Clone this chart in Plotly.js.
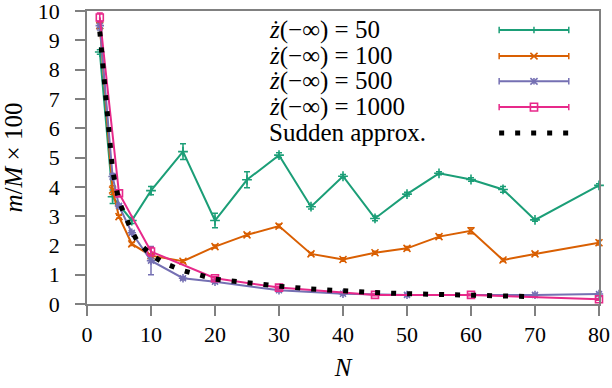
<!DOCTYPE html>
<html>
<head>
<meta charset="utf-8">
<script src="https://cdn.plot.ly/plotly-3.0.1.min.js"></script>
</head>
<body style="margin:0">
<div id="chart"></div>
<script>
// ---- data ----
const seriesNames = ["50", "100", "500", "1000"];
const n50 = [2, 4, 7, 10, 15, 20, 25, 30, 35, 40, 45, 50, 55, 60, 65, 70, 80];
const m50 = [8.6, 3.66, 2.85, 3.87, 5.2, 2.85, 4.24, 5.08, 3.32, 4.36, 2.92, 3.75, 4.46, 4.25, 3.91, 2.87, 4.05];
const e50 = [0.08, 0.23, 0.1, 0.14, 0.27, 0.25, 0.27, 0.08, 0.08, 0.06, 0.08, 0.06, 0.05, 0.06, 0.1, 0.05, 0.05];

const n100 = [2, 4, 5, 7, 10, 15, 20, 25, 30, 35, 40, 45, 50, 55, 60, 65, 70, 80];
const m100 = [9.5, 3.89, 2.98, 2.05, 1.65, 1.46, 1.96, 2.36, 2.66, 1.71, 1.52, 1.75, 1.9, 2.3, 2.5, 1.5, 1.71, 2.09];
const e100 = [0.1, 0.15, 0.05, 0.05, 0.05, 0.05, 0.05, 0.05, 0.06, 0.05, 0.06, 0.05, 0.06, 0.06, 0.1, 0.05, 0.05, 0.08];

const n500 = [2, 4, 5, 7, 10, 15, 20, 30, 40, 50, 70, 80];
const m500 = [9.5, 4.35, 3.35, 2.43, 1.48, 0.88, 0.76, 0.47, 0.35, 0.31, 0.31, 0.34];
const e500 = [0.15, 0.1, 0.05, 0.05, 0.48, 0.05, 0.05, 0.04, 0.03, 0.03, 0.03, 0.03];

const n1000 = [2, 5, 10, 20, 30, 45, 60, 80];
const m1000 = [9.78, 3.78, 1.79, 0.88, 0.56, 0.31, 0.31, 0.16];
const e1000 = [0.15, 0.12, 0.15, 0.06, 0.05, 0.03, 0.03, 0.03];

const nSudden = [2, 2.5, 3, 3.5, 4, 5, 6, 7, 8, 10, 12, 15, 20, 25, 30, 35, 40, 45, 50, 55, 60, 65, 70];
const mSudden = [9.3, 8.0, 6.9, 5.6, 4.55, 3.5, 3.0, 2.48, 2.1, 1.68, 1.4, 1.14, 0.85, 0.71, 0.61, 0.51, 0.43, 0.39, 0.35, 0.32, 0.3, 0.27, 0.25];

const xTicks = [0, 10, 20, 30, 40, 50, 60, 70, 80];
const yTicks = [0, 1, 2, 3, 4, 5, 6, 7, 8, 9, 10];

// ---- styles ----
const colors = ["#1b9e77", "#d95f02", "#7570b3", "#e7298a"];
const symbols = ["cross-thin-open", "x-thin-open", "asterisk-open", "square-open"];
const FAM = "Liberation Serif";

function series(x, y, err, i) {
  return {
    x: x, y: y, type: "scatter", mode: "lines+markers",
    name: "ż(−∞) = " + seriesNames[i],
    line: {color: colors[i], width: 2},
    marker: {symbol: symbols[i], size: 7, color: colors[i], line: {color: colors[i], width: 1.6}},
    error_y: {type: "data", array: err, visible: true, color: colors[i], thickness: 1.5, width: 3},
    showlegend: false, cliponaxis: false
  };
}

const traces = [
  series(n50, m50, e50, 0),
  series(n100, m100, e100, 1),
  series(n500, m500, e500, 2),
  series(n1000, m1000, e1000, 3),
  {x: nSudden, y: mSudden, type: "scatter", mode: "lines", name: "Sudden approx.",
   line: {color: "#000", width: 5, dash: "5px,11px"}, showlegend: false}
];

// ---- hand-made legend in gnuplot style (text left, sample right) ----
const legendLabels = ["<i>ż</i>(−∞) = 50", "<i>ż</i>(−∞) = 100", "<i>ż</i>(−∞) = 500", "<i>ż</i>(−∞) = 1000", "Sudden approx."];
const rowY = [0.935, 0.846, 0.760, 0.672, 0.584];
const sx0 = 0.805, sx1 = 0.941, sxm = 0.873;
const annotations = [];
const shapes = [];
legendLabels.forEach(function (t, i) {
  annotations.push({xref: "paper", yref: "paper", x: 0.352, y: rowY[i], xanchor: "left", yanchor: "middle",
    text: t, showarrow: false, font: {family: FAM, size: 25, color: "#000"}});
});
const dy = 0.011, dx = 0.007;
for (let i = 0; i < 4; i++) {
  const c = colors[i], y = rowY[i];
  shapes.push({type: "line", xref: "paper", yref: "paper", x0: sx0, x1: sx1, y0: y, y1: y, line: {color: c, width: 2}});
  shapes.push({type: "line", xref: "paper", yref: "paper", x0: sx0, x1: sx0, y0: y - dy, y1: y + dy, line: {color: c, width: 1.5}});
  shapes.push({type: "line", xref: "paper", yref: "paper", x0: sx1, x1: sx1, y0: y - dy, y1: y + dy, line: {color: c, width: 1.5}});
  if (i === 0) {
    shapes.push({type: "line", xref: "paper", yref: "paper", x0: sxm, x1: sxm, y0: y - dy, y1: y + dy, line: {color: c, width: 1.5}});
  } else if (i === 1) {
    shapes.push({type: "line", xref: "paper", yref: "paper", x0: sxm - dx, x1: sxm + dx, y0: y - dy, y1: y + dy, line: {color: c, width: 1.6}});
    shapes.push({type: "line", xref: "paper", yref: "paper", x0: sxm - dx, x1: sxm + dx, y0: y + dy, y1: y - dy, line: {color: c, width: 1.6}});
  } else if (i === 2) {
    shapes.push({type: "line", xref: "paper", yref: "paper", x0: sxm - dx, x1: sxm + dx, y0: y - dy, y1: y + dy, line: {color: c, width: 1.6}});
    shapes.push({type: "line", xref: "paper", yref: "paper", x0: sxm - dx, x1: sxm + dx, y0: y + dy, y1: y - dy, line: {color: c, width: 1.6}});
    shapes.push({type: "line", xref: "paper", yref: "paper", x0: sxm, x1: sxm, y0: y - dy, y1: y + dy, line: {color: c, width: 1.6}});
  } else {
    shapes.push({type: "rect", xref: "paper", yref: "paper", x0: sxm - dx, x1: sxm + dx, y0: y - dy * 1.2, y1: y + dy * 1.2, line: {color: c, width: 1.6}});
  }
}
shapes.push({type: "line", xref: "paper", yref: "paper", x0: sx0, x1: sx1, y0: rowY[4], y1: rowY[4], line: {color: "#000", width: 5, dash: "5px,11px"}});

const layout = {
  width: 612, height: 388,
  margin: {l: 87, r: 13, t: 11, b: 84},
  paper_bgcolor: "#fff", plot_bgcolor: "#fff",
  showlegend: false,
  xaxis: {
    range: [0, 80], tickvals: xTicks, ticktext: xTicks.map(String),
    showline: true, linecolor: "#808080", linewidth: 1.5, mirror: true,
    ticks: "outside", ticklen: 10, tickwidth: 1.5, tickcolor: "#808080",
    showgrid: false, zeroline: false, ticklabeloverflow: "allow",
    tickfont: {family: FAM, size: 22, color: "#000"},
    title: {text: "<i>N</i>", font: {family: FAM, size: 25, color: "#000"}, standoff: 12}
  },
  yaxis: {
    range: [0, 10], tickvals: yTicks, ticktext: yTicks.map(function (v) { return v + "\u2002"; }),
    showline: true, linecolor: "#808080", linewidth: 1.5, mirror: true,
    ticks: "outside", ticklen: 10, tickwidth: 1.5, tickcolor: "#808080",
    showgrid: false, zeroline: false, ticklabeloverflow: "allow",
    tickfont: {family: FAM, size: 22, color: "#000"},
    title: {text: "<i>m</i>/<i>M</i> × 100", font: {family: FAM, size: 25, color: "#000"}, standoff: 8}
  },
  annotations: annotations,
  shapes: shapes
};

Plotly.newPlot("chart", traces, layout, {displayModeBar: false});
</script>
</body>
</html>
